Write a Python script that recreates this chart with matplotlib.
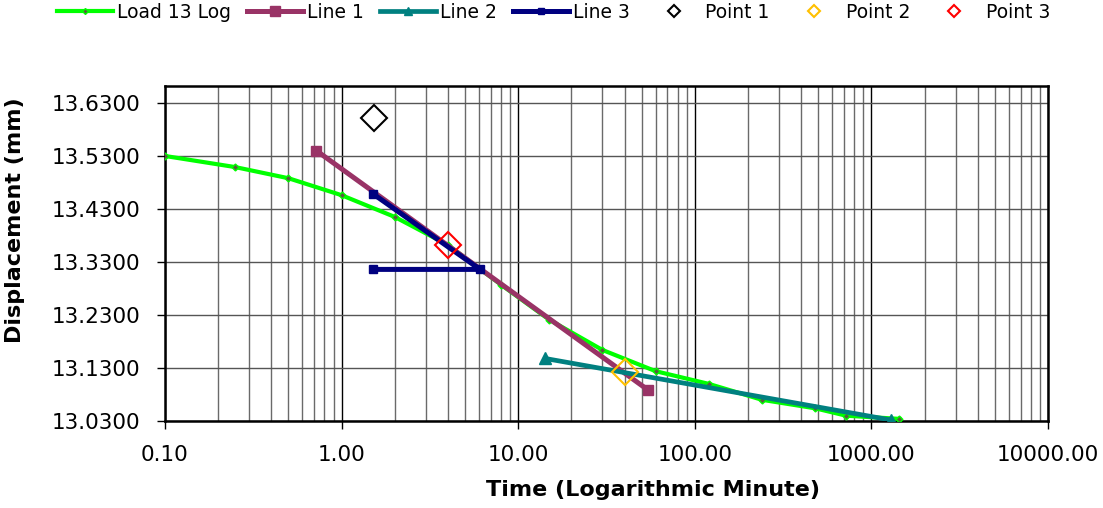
import matplotlib
matplotlib.use("Agg")
import matplotlib.pyplot as plt
from matplotlib.lines import Line2D
from matplotlib.ticker import FixedLocator, FormatStrFormatter, LogLocator, NullFormatter

# Consolidation reading for load step 13
load_time = [0.1, 0.25, 0.5, 1, 2, 4, 8, 15, 30, 60, 120, 240, 480, 720, 1440]
load_disp = [13.530, 13.509, 13.488, 13.456, 13.415, 13.362, 13.287, 13.221,
             13.164, 13.124, 13.100, 13.070, 13.054, 13.040, 13.034]

# Construction lines
line1_time = [0.72, 54.6]
line1_disp = [13.540, 13.088]
line2_time = [14.2, 1285]
line2_disp = [13.148, 13.032]
line3_time = [1.5, 6.08, 1.5]
line3_disp = [13.459, 13.316, 13.316]

# Marked points
point1 = (1.52, 13.601)
point2 = (40.0, 13.122)
point3 = (4.0, 13.362)

y_ticks = [13.03, 13.13, 13.23, 13.33, 13.43, 13.53, 13.63]
x_ticks = [0.1, 1, 10, 100, 1000, 10000]

plt.rcParams['font.family'] = ['DejaVu Sans']

fig = plt.figure(figsize=(11.03, 5.08), dpi=100)
ax = fig.add_axes([165 / 1103, 1 - 421 / 508, 883 / 1103, 335 / 508])

green = '#00ff00'
maroon = '#993366'
teal = '#008080'
navy = '#000080'

ax.plot(load_time, load_disp, color=green, lw=3.0, marker='D', ms=3.5,
        mfc='#5a5a40', mec=green, mew=1.0, zorder=3)
ax.plot(line1_time, line1_disp, color=maroon, lw=3.6, marker='s', ms=7,
        solid_capstyle='butt', zorder=4)
ax.plot(line2_time, line2_disp, color=teal, lw=3.4, marker='^', ms=8,
        solid_capstyle='butt', zorder=5)
ax.plot(line3_time, line3_disp, color=navy, lw=3.6, marker='s', ms=5.5,
        solid_capstyle='butt', zorder=6)
for (px, py), c in zip([point1, point2, point3], ['black', '#ffc000', 'red']):
    ax.plot([px], [py], linestyle='none', marker='D', ms=13.5, mfc='none',
            mec=c, mew=1.5, zorder=7)

ax.set_xscale('log')
ax.set_xlim(0.1, 10000)
ax.set_ylim(13.03, 13.662)

ax.xaxis.set_major_locator(FixedLocator(x_ticks))
ax.xaxis.set_major_formatter(FormatStrFormatter('%.2f'))
ax.xaxis.set_minor_locator(LogLocator(base=10, subs=range(2, 10), numticks=20))
ax.xaxis.set_minor_formatter(NullFormatter())
ax.yaxis.set_major_locator(FixedLocator(y_ticks))
ax.yaxis.set_major_formatter(FormatStrFormatter('%.4f'))

ax.grid(True, which='major', axis='x', color='black', lw=1.0, zorder=1)
ax.grid(True, which='minor', axis='x', color='#6a6a6a', lw=1.0, zorder=1)
ax.grid(True, which='major', axis='y', color='#555555', lw=1.0, zorder=1)
ax.set_axisbelow(True)

ax.tick_params(axis='both', which='major', direction='out', length=6, width=1,
               labelsize=15.5, color='black')
ax.tick_params(axis='x', which='major', pad=11)
ax.tick_params(axis='y', which='major', pad=12)
ax.tick_params(axis='x', which='minor', length=0)

for s in ax.spines.values():
    s.set_linewidth(1.8)
    s.set_color('black')

fig.text(653 / 1103, 1 - 490 / 508, 'Time (Logarithmic Minute)', fontsize=16,
         fontweight='bold', ha='center', va='center')
fig.text(15 / 1103, 1 - 220 / 508, 'Displacement (mm)', fontsize=16,
         fontweight='bold', ha='center', va='center', rotation=90)

handles = [
    Line2D([], [], color=green, lw=3.0, marker='D', ms=3, mfc='#5a5a40', mec=green),
    Line2D([], [], color=maroon, lw=3.6, marker='s', ms=7),
    Line2D([], [], color=teal, lw=3.4, marker='^', ms=6),
    Line2D([], [], color=navy, lw=3.6, marker='s', ms=5),
    Line2D([], [], linestyle='none', marker='D', ms=6, mfc='none', mec='black', mew=1.5),
    Line2D([], [], linestyle='none', marker='D', ms=6, mfc='none', mec='#ffc000', mew=1.5),
    Line2D([], [], linestyle='none', marker='D', ms=6, mfc='none', mec='red', mew=1.5),
]
labels = ['Load 13 Log', 'Line 1', 'Line 2', 'Line 3', 'Point 1', 'Point 2', 'Point 3']
fig.legend(handles, labels, loc='upper left', bbox_to_anchor=(57 / 1103, 1 - 3 / 508),
           ncol=7, frameon=False, fontsize=13.5, handlelength=3.0, handletextpad=0.2,
           columnspacing=0.85, borderpad=0, borderaxespad=0)

fig.savefig('out.png', dpi=100)
